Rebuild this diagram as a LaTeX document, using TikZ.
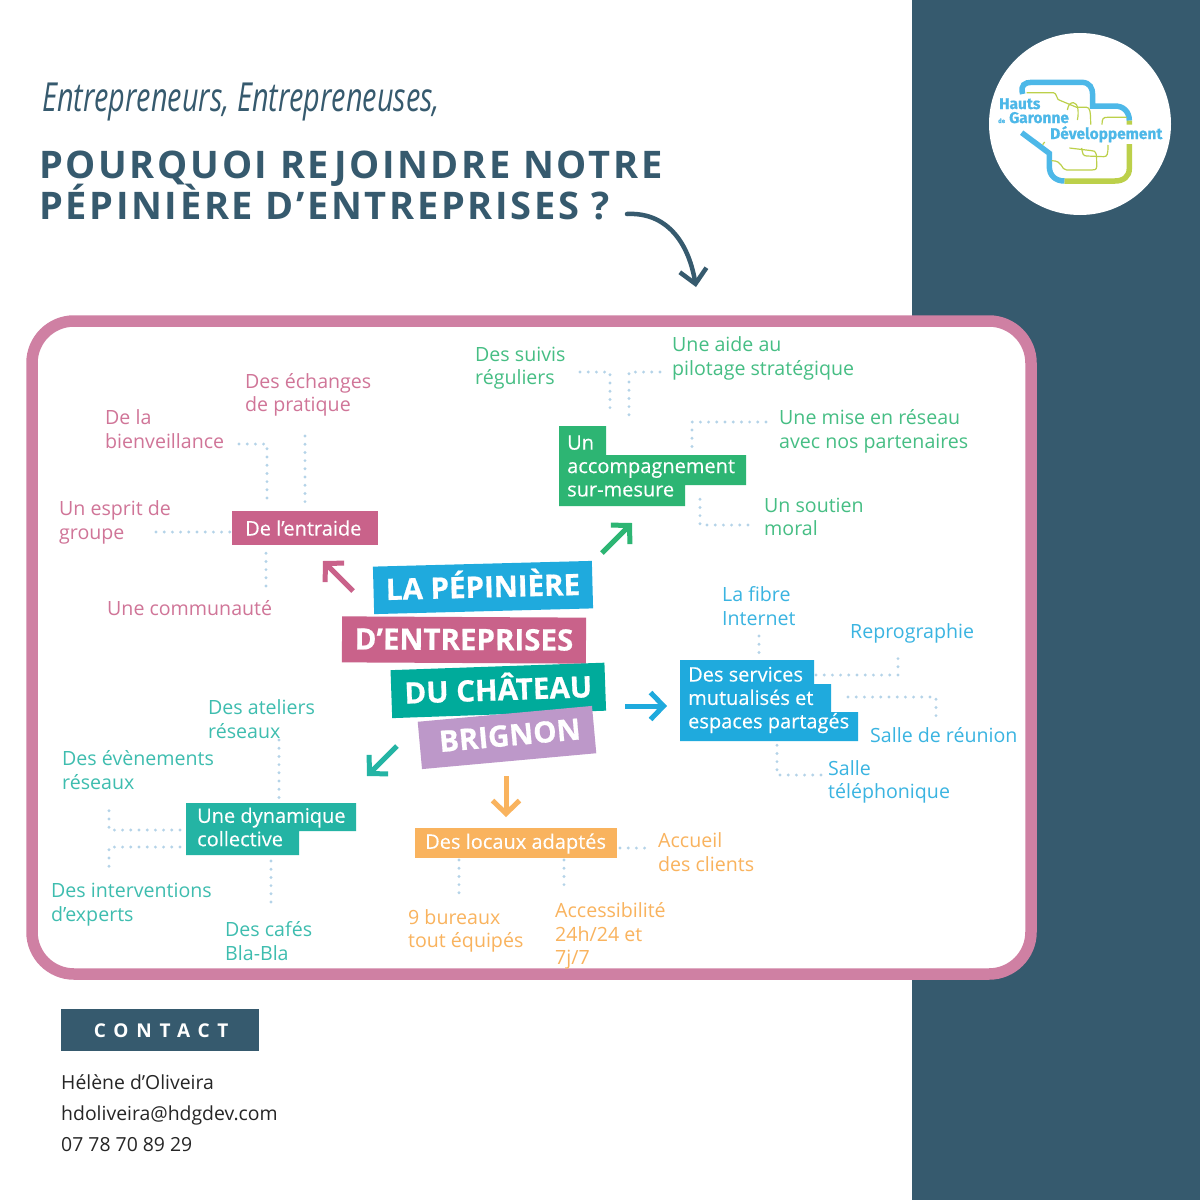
\documentclass[tikz,border=0pt]{standalone}
\usepackage{fontspec}
\setmainfont{Open Sans}
\newfontfamily\introfont[FakeStretch=.72]{Open Sans}
\newfontfamily\headfont[LetterSpace=7]{Open Sans}
\newfontfamily\contactfont[LetterSpace=41]{Open Sans}
\newfontfamily\bannerfont[BoldFeatures={FakeBold=.6}]{Open Sans}
\newfontfamily\tagfont[FakeBold=.25]{Open Sans}
\newfontfamily\logofont[BoldFeatures={FakeBold=.5}]{Fira Sans}
\usetikzlibrary{arrows.meta}
\definecolor{slate}{HTML}{365A6E}
\definecolor{framepink}{HTML}{CF80A3}
\definecolor{rosetag}{HTML}{C9628A}
\definecolor{greentag}{HTML}{2DB573}
\definecolor{bluetag}{HTML}{1FAADD}
\definecolor{tealtag}{HTML}{24B4A4}
\definecolor{orangetag}{HTML}{F9B35E}
\definecolor{deepteal}{HTML}{00AB9B}
\definecolor{mauve}{HTML}{BD98C9}
\definecolor{dotblue}{HTML}{B4D3E8}
\definecolor{logoblue}{HTML}{4DB8E8}
\definecolor{logogreen}{HTML}{BCD04A}
\tikzset{
  lbl/.style={anchor=west,inner sep=0,align=left,font=\fontsize{19.6}{23.6}\selectfont},
  tagtxt/.style={anchor=west,inner sep=0,align=left,text=white,font=\fontsize{20}{23.4}\tagfont},
  banner/.style={fill=#1,text=white,inner sep=0,text height=20,text depth=0,font=\fontsize{29.5}{36}\bannerfont\bfseries},
  dotline/.style={dotblue,line width=3.2,line cap=round,dash pattern=on 0 off 8.2},
  bigarrow/.style={#1,line width=5,-{Straight Barb[length=13,width=27]}},
  thinlogo/.style={logogreen,line width=1.2},
  logotxt/.style={anchor=base west,inner sep=0,text=logoblue,font=\fontsize{15.5}{16}\logofont\bfseries},
  contactline/.style={anchor=base west,inner sep=0,text=black!85,font=\fontsize{19.4}{24}\selectfont},
}
\begin{document}
\begin{tikzpicture}[x=1pt,y=-1pt]
  \useasboundingbox (0,0) rectangle (1200,1200);
  \fill[white] (0,0) rectangle (1200,1200);
  \fill[slate] (912,0) rectangle (1200,1200);

  % logo
  \fill[white] (1080,124) circle (91);
  \begin{scope}[shift={(970,20)},scale=1/3]
    \draw[logoblue,line width=5.5] (158,222) .. controls (150,195) and (165,187) .. (185,187) -- (335,187) .. controls (360,187) and (368,205) .. (368,225) -- (368,258) -- (435,258) .. controls (460,258) and (478,275) .. (478,302);
    \draw[logogreen,line width=5.5] (478,302) -- (478,314) (478,372) -- (478,445) .. controls (478,470) and (460,483) .. (435,483) -- (283,483);
    \draw[logoblue,line width=5.5] (283,483) .. controls (255,483) and (238,465) .. (238,440) -- (238,400) -- (155,338);
    \draw[thinlogo] (170,218) -- (250,218) .. controls (262,218) and (258,242) .. (272,242) -- (320,262) -- (350,262) .. controls (360,262) and (362,275) .. (362,314);
    \draw[thinlogo] (292,270) .. controls (295,255) and (300,248) .. (310,248) .. controls (325,248) and (327,280) .. (322,300);
    \draw[thinlogo] (396,314) .. controls (396,295) and (400,292) .. (412,292) -- (470,292);
    \draw[thinlogo] (298,384) -- (365,392) .. controls (380,392) and (380,400) .. (380,440) .. controls (380,450) and (372,450) .. (365,450) -- (290,450) .. controls (272,450) and (280,422) .. (245,422);
    \draw[thinlogo] (335,384) .. controls (338,400) and (338,408) .. (350,408) -- (400,410) .. controls (412,410) and (414,405) .. (414,375);
    \draw[thinlogo] (218,374) -- (224,366);
  \end{scope}
  \node[logotxt] (hauts) at (999,109) {Hauts};
  \node[logotxt,font=\fontsize{6}{7}\logofont\bfseries] (dela) at (998,123) {de};
  \node[logotxt] (garonne) at (1009,123) {Garonne};
  \node[logotxt] (dev) at (1050,139) {Développement};

  % title
  \node[anchor=base west,inner sep=0,text=slate,font=\fontsize{40}{44}\introfont\itshape] (intro) at (42,111) {Entrepreneurs, Entrepreneuses,};
  \node[anchor=base west,inner sep=0,text=slate,font=\fontsize{38}{41}\headfont\bfseries] (head1) at (39,178.5) {POURQUOI REJOINDRE NOTRE};
  \node[anchor=base west,inner sep=0,text=slate,font=\fontsize{38}{41}\headfont\bfseries] (head2) at (39,219.5) {PÉPINIÈRE D’ENTREPRISES ?};
  \coordinate (curlstart) at (627,214);
  \coordinate (curlend) at (696,287);
  \draw[slate,line width=4.5,line cap=round,-{Straight Barb[length=14,width=27]}] (curlstart) .. controls (665,212) and (688,240) .. (curlend);

  % frame
  \draw[framepink,fill=white,line width=11.5,rounded corners=42] (32,321) rectangle (1031,974);

  % centre
  \node[banner=bluetag,minimum width=219,minimum height=47.5,rotate=1.5] (pepi) at (483,587.5) {LA PÉPINIÈRE};
  \node[banner=rosetag,minimum width=244,minimum height=46,rotate=-.3] (entre) at (464,640) {D’ENTREPRISES};
  \node[banner=deepteal,minimum width=214,minimum height=48,rotate=2] (chateau) at (498.3,690.4) {DU CHÂTEAU};
  \node[banner=mauve,minimum width=175,minimum height=47.5,rotate=5.2,text height=17] (brignon) at (507,737.5) {\hspace*{6pt}BRIGNON};

  % tags
  \fill[rosetag] (232,511) rectangle (378,545);
  \node[tagtxt] (entraide) at (245,528) {De l’entraide};

  \fill[greentag] (559,426) -| (606,455) -| (746,485) -| (685,506) -| cycle;
  \node[tagtxt] (accomp) at (567,466) {Un\\accompagnement\\sur-mesure};

  \fill[bluetag] (680,660) -| (814,684) -| (831,712) -| (858,741) -| cycle;
  \node[tagtxt] (serv) at (688,700) {Des services\\mutualisés et\\espaces partagés};

  \fill[tealtag] (186,803) -| (356,831) -| (299,855) -| cycle;
  \node[tagtxt] (dyn) at (197,827) {Une dynamique\\collective};

  \fill[orangetag] (415,828) rectangle (617,858);
  \node[tagtxt] (locaux) at (425,843.5) {Des locaux adaptés};

  % labels
  \begin{scope}[every node/.append style={text=rosetag!88}]
    \node[lbl] (echanges) at (245,395) {Des échanges\\de pratique};
    \node[lbl] (bienv) at (105,429) {De la\\bienveillance};
    \node[lbl] (esprit) at (59,522.5) {Un esprit de\\groupe};
    \node[lbl] (commu) at (107,608) {Une communauté};
  \end{scope}
  \begin{scope}[every node/.append style={text=greentag!88}]
    \node[lbl] (suivis) at (475,368) {Des suivis\\réguliers};
    \node[lbl] (aide) at (672,358.5) {Une aide au\\pilotage stratégique};
    \node[lbl] (mise) at (779,431.5) {Une mise en réseau\\avec nos partenaires};
    \node[lbl] (soutien) at (764,517) {Un soutien\\moral};
  \end{scope}
  \begin{scope}[every node/.append style={text=bluetag!88}]
    \node[lbl] (fibre) at (722,606) {La fibre\\Internet};
    \node[lbl] (repro) at (850,633) {Reprographie};
    \node[lbl] (reunion) at (870,735) {Salle de réunion};
    \node[lbl] (tel) at (828,782) {Salle\\téléphonique};
  \end{scope}
  \begin{scope}[every node/.append style={text=tealtag!88}]
    \node[lbl] (ateliers) at (208,719) {Des ateliers\\réseaux};
    \node[lbl] (even) at (62,770) {Des évènements\\réseaux};
    \node[lbl] (interv) at (51,904.5) {Des interventions\\d’experts};
    \node[lbl] (cafes) at (225,941) {Des cafés\\Bla-Bla};
  \end{scope}
  \begin{scope}[every node/.append style={text=orangetag}]
    \node[lbl] (accueil) at (658,852) {Accueil\\des clients};
    \node[lbl] (bureaux) at (408,931) {9 bureaux\\tout équipés};
    \node[lbl] (access) at (555,936) {Accessibilité\\24h/24 et\\7j/7};
  \end{scope}

  % dotted links
  \coordinate (bv1) at (239,444);  \coordinate (bv2) at (267,500);
  \coordinate (ec1) at (305,436);  \coordinate (ec2) at (305,502);
  \coordinate (gr1) at (156,532);  \coordinate (gr2) at (232,532);
  \coordinate (co1) at (266,586);  \coordinate (co2) at (266,548);
  \coordinate (su1) at (580,372);  \coordinate (su2) at (610,415);
  \coordinate (ai1) at (660,372);  \coordinate (ai2) at (629,415);
  \coordinate (mi1) at (766,422);  \coordinate (mi2) at (692,449);
  \coordinate (so1) at (748,525);  \coordinate (so2) at (700,494);
  \coordinate (fi1) at (759,636);  \coordinate (fi2) at (759,659);
  \coordinate (re1) at (816,675);  \coordinate (re2) at (898,656);
  \coordinate (sa1) at (848,697);  \coordinate (sa2) at (936,720);
  \coordinate (te1) at (821,775);  \coordinate (te2) at (777,745);
  \coordinate (at1) at (279,740);  \coordinate (at2) at (279,798);
  \coordinate (ev1) at (180,830);  \coordinate (ev2) at (109,807);
  \coordinate (in1) at (180,847);  \coordinate (in2) at (109,871);
  \coordinate (ca1) at (271,861);  \coordinate (ca2) at (271,907);
  \coordinate (ac1) at (620,848);  \coordinate (ac2) at (652,848);
  \coordinate (bu1) at (459,860);  \coordinate (bu2) at (459,895);
  \coordinate (ax1) at (564,860);  \coordinate (ax2) at (564,890);
  \foreach \from/\to in {bv1/bv2,su1/su2,ai1/ai2,mi1/mi2,so1/so2,re1/re2,sa1/sa2,te1/te2,ev1/ev2,in1/in2}
    \draw[dotline] (\from) -| (\to);
  \foreach \from/\to in {ec1/ec2,gr1/gr2,co1/co2,fi1/fi2,at1/at2,ca1/ca2,ac1/ac2,bu1/bu2,ax1/ax2}
    \draw[dotline] (\from) -- (\to);

  % arrows
  \coordinate (ar1) at (353,591);  \coordinate (ar2) at (323,561);
  \coordinate (ag1) at (602,553);  \coordinate (ag2) at (632,523);
  \coordinate (ab1) at (625,706);  \coordinate (ab2) at (667,706);
  \coordinate (at3) at (397,746);  \coordinate (at4) at (367,776);
  \coordinate (ao1) at (506,776);  \coordinate (ao2) at (506,817);
  \draw[bigarrow=rosetag] (ar1) -- (ar2);
  \draw[bigarrow=greentag] (ag1) -- (ag2);
  \draw[bigarrow=bluetag] (ab1) -- (ab2);
  \draw[bigarrow=tealtag] (at3) -- (at4);
  \draw[bigarrow=orangetag] (ao1) -- (ao2);

  % contact
  \node[anchor=west,fill=slate,text=white,inner sep=0,minimum width=198,minimum height=42,text height=14,text depth=0,font=\fontsize{19}{22}\contactfont\bfseries] (contact) at (61,1030) {\hspace*{2pt}CONTACT};
  \node[contactline] (nom) at (61,1089) {Hélène d’Oliveira};
  \node[contactline] (mail) at (61,1120) {hdoliveira@hdgdev.com};
  \node[contactline] (tele) at (61,1151) {07 78 70 89 29};
\end{tikzpicture}
\end{document}
